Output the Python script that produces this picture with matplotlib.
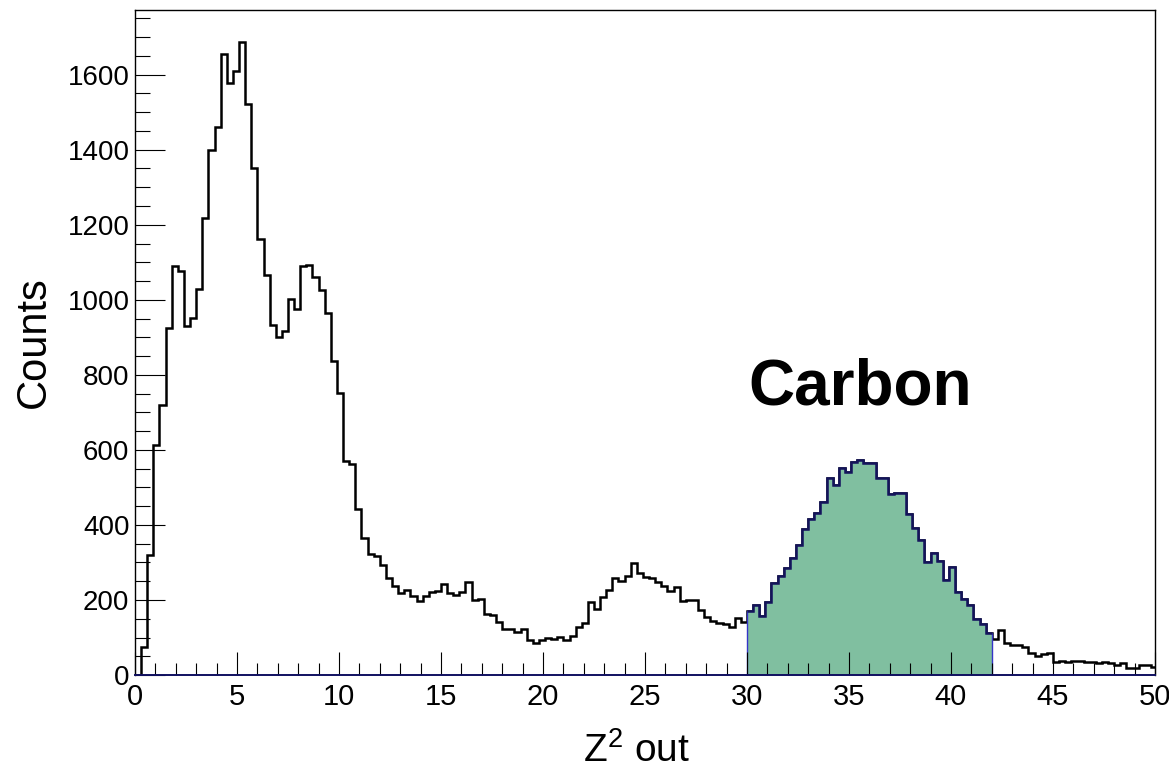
import numpy as np
import matplotlib.pyplot as plt
from matplotlib.ticker import MultipleLocator

plt.rcParams['font.family'] = ['Liberation Sans', 'DejaVu Sans']
plt.rcParams['mathtext.fontset'] = 'custom'
plt.rcParams['mathtext.rm'] = 'Liberation Sans'

# Z^2 histogram, 0.3 wide bins starting at 0
bin_width = 0.3
counts = np.array([
    0, 75, 320, 613, 720, 925, 1091, 1076, 931, 951,
    1030, 1218, 1400, 1461, 1655, 1579, 1609, 1688, 1521, 1352,
    1161, 1067, 932, 901, 918, 1002, 976, 1089, 1093, 1062,
    1027, 966, 836, 751, 571, 562, 442, 364, 323, 316,
    292, 260, 238, 220, 228, 210, 197, 212, 221, 225,
    244, 220, 213, 221, 248, 200, 204, 164, 160, 142,
    124, 124, 116, 122, 93, 86, 93, 98, 96, 101,
    93, 104, 127, 140, 195, 176, 207, 228, 258, 251,
    264, 298, 271, 262, 258, 249, 237, 224, 234, 197,
    200, 200, 173, 156, 144, 138, 135, 127, 151, 142,
    171, 188, 157, 194, 246, 264, 286, 311, 346, 388,
    416, 431, 461, 524, 507, 552, 540, 569, 572, 564,
    564, 526, 524, 483, 485, 486, 428, 391, 360, 300,
    326, 304, 253, 287, 222, 203, 188, 149, 135, 113,
    97, 120, 86, 81, 80, 76, 60, 51, 55, 60,
    36, 37, 35, 37, 37, 34, 34, 33, 34, 31,
    28, 33, 18, 18, 28, 28, 22,
])
edges = bin_width * np.arange(len(counts) + 1)

# carbon selection window
sel_lo, sel_hi = 30.0, 42.0

fig = plt.figure(figsize=(11.69, 7.68), dpi=100)
ax = fig.add_axes([0.1155, 0.121, 0.8725, 0.866])

ax.stairs(counts, edges, color='black', linewidth=1.8, baseline=0)

i0 = int(round(sel_lo / bin_width))
i1 = int(round(sel_hi / bin_width))
ax.stairs(counts[i0:i1], edges[i0:i1 + 1], fill=True, facecolor='#80bfa0',
          edgecolor='#3535c8', linewidth=1.0)
ax.stairs(counts[i0:i1], edges[i0:i1 + 1], color='#14145a', linewidth=1.8,
          baseline=None)

ax.set_xlim(0, 50)
ax.set_ylim(0, 1.05 * counts.max())

ax.xaxis.set_major_locator(MultipleLocator(5))
ax.xaxis.set_minor_locator(MultipleLocator(1))
ax.set_yticks(np.arange(0, 1601, 200))
ax.yaxis.set_minor_locator(MultipleLocator(50))

ax.tick_params(axis='x', which='major', direction='in', length=16.5, width=0.8,
               labelsize=21, pad=6)
ax.tick_params(axis='x', which='minor', direction='in', length=8.3, width=0.8)
ax.tick_params(axis='y', which='major', direction='in', length=21.6, width=0.8,
               labelsize=20, pad=4)
ax.tick_params(axis='y', which='minor', direction='in', length=10.8, width=0.8)

for side in ['top', 'right', 'left']:
    ax.spines[side].set_linewidth(1.0)
ax.spines['bottom'].set_linewidth(1.4)
ax.spines['bottom'].set_color('#101060')

ax.text(-0.099, 0.5, 'Counts', rotation=90, ha='center', va='center',
        fontsize=30, transform=ax.transAxes)
ax.text(0.492, -0.131, r'Z$^{\mathrm{2}}$ out', ha='center', va='baseline',
        fontsize=28, transform=ax.transAxes)
ax.text(30.05, 720, 'Carbon', fontsize=46, fontweight='bold', va='baseline')

fig.savefig('out.png', dpi=100)
